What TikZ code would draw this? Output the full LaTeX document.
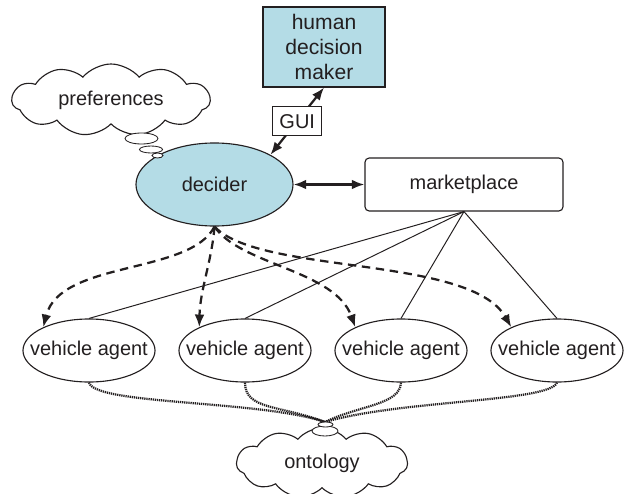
\documentclass[tikz,border=0pt]{standalone}
\usepackage{fontspec}
\setmainfont{Liberation Sans}
\usetikzlibrary{shapes.geometric,shapes.symbols,arrows.meta}

\definecolor{paleblue}{RGB}{180,220,230}
\definecolor{ink}{RGB}{35,31,32}

\tikzset{
  agent/.style={ellipse, draw=ink, line width=0.8pt, minimum width=3.3cm, minimum height=1.575cm, inner xsep=-0.31cm, inner ysep=0pt},
  thought/.style={cloud, draw=ink, line width=0.8pt, cloud puffs=11, cloud puff arc=100, cloud ignores aspect, inner sep=0pt},
  bubble/.style={ellipse, draw=ink, fill=white, line width=0.6pt, inner sep=0pt},
  link/.style={ink, line width=0.7pt},
  ask/.style={ink, dash pattern=on 6pt off 4pt, line width=1.6pt, -{Latex[length=9pt,width=7pt]}},
  talk/.style={ink, line width=1.6pt, {Latex[length=9pt,width=7pt]}-{Latex[length=9pt,width=7pt]}},
  share/.style={ink, dash pattern=on 0.9pt off 0.6pt, line width=1.6pt},
}

\begin{document}
\begin{tikzpicture}[x=0.025cm, y=-0.025cm, font=\fontsize{14.2}{16.5}\selectfont, text=ink]
    \useasboundingbox (0,0) rectangle (627,494);

    % main nodes
    \node[rectangle, draw=ink, fill=paleblue, line width=0.8pt, minimum width=3.05cm, minimum height=2cm, align=center, inner sep=0pt, font=\fontsize{15}{17.5}\selectfont] (hdm) at (324,47) {human\\decision\\maker};
    \node[ellipse, draw=ink, fill=paleblue, line width=0.8pt, minimum width=3.925cm, minimum height=2.075cm, inner sep=0pt] (decider) at (214.5,184.5) {decider};
    \node[rectangle, rounded corners=3pt, draw=ink, line width=0.8pt, minimum width=4.95cm, minimum height=1.325cm, inner sep=0pt] (market) at (464,184.5) {marketplace};
    \node[thought, minimum width=4.95cm, minimum height=1.8cm] (prefs) at (111,100) {preferences};
    \node[thought, minimum width=4.275cm, minimum height=1.75cm] (onto) at (322,463) {ontology};
    \foreach \i/\x in {1/89,2/245,3/401,4/557}
        \node[agent] (agent\i) at (\x,350.5) {vehicle agent};

    % thought bubbles
    \node[bubble, minimum width=0.825cm, minimum height=0.275cm] (pbub1) at (141.5,138.5) {};
    \node[bubble, minimum width=0.575cm, minimum height=0.175cm] (pbub2) at (151,149.5) {};
    \node[bubble, minimum width=0.275cm, minimum height=0.125cm] (pbub3) at (157.5,155.5) {};

    % GUI link and marketplace link
    \draw[talk] (decider.28) -- (hdm.south) node[midway, rectangle, draw=ink, fill=white, line width=0.8pt, minimum width=1.225cm, minimum height=0.725cm, inner sep=0pt] (gui) {GUI};
    \draw[talk] (decider) -- (market);

    % marketplace to agents
    \foreach \i in {1,...,4}
        \draw[link] (market.south) -- (agent\i.north);

    % decider asks the agents
    \draw[ask] (decider.south) .. controls (190,275) and (60,260) .. (agent1.153);
    \draw[ask] (decider.south) .. controls (212,260) and (200,290) .. (agent2.153);
    \draw[ask] (decider.south) .. controls (240,265) and (335,270) .. (agent3.153);
    \draw[ask] (decider.south) .. controls (260,275) and (470,255) .. (agent4.153);

    % shared ontology
    \coordinate (hub) at (325,422);
    \draw[share] (agent1.south) .. controls (95,405) and (260,400) .. (hub);
    \draw[share] (agent2.south) .. controls (245,410) and (280,405) .. (hub);
    \draw[share] (agent3.south) .. controls (400,405) and (360,405) .. (hub);
    \draw[share] (agent4.south) .. controls (550,402) and (400,400) .. (hub);
    \node[bubble, minimum width=0.65cm, minimum height=0.25cm] (obub1) at (325,431) {};
    \node[bubble, minimum width=0.375cm, minimum height=0.125cm] (obub2) at (325.5,424.5) {};
\end{tikzpicture}
\end{document}
